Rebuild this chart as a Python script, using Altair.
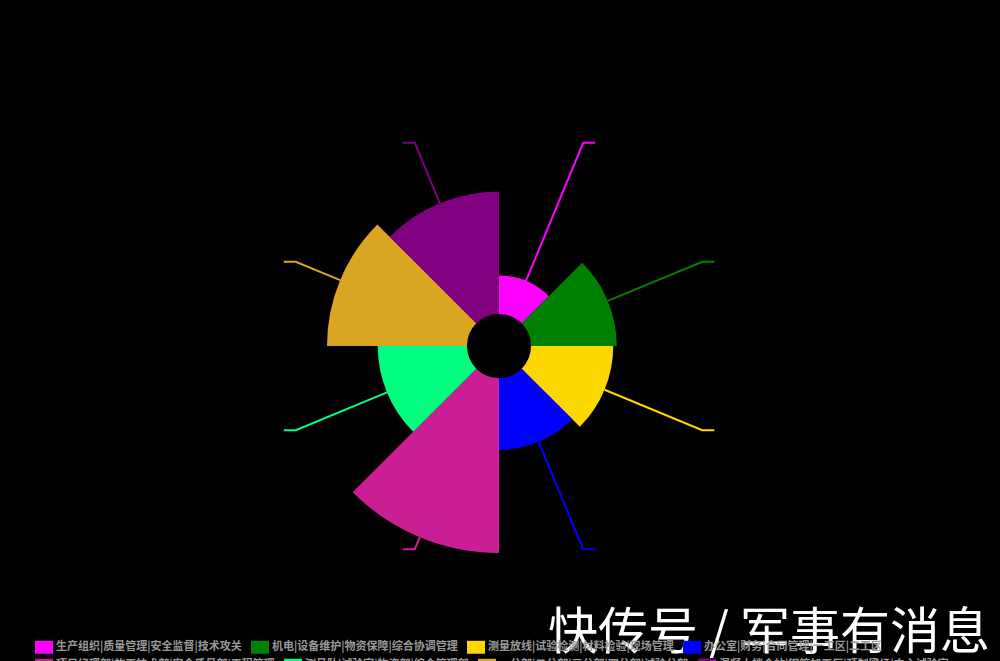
import math
import altair as alt
import pandas as pd

# ---- data ----
names = [
    "生产组织|质量管理|安全监督|技术攻关",
    "机电|设备维护|物资保障|综合协调管理",
    "测量放线|试验检测|材料检验|现场管理",
    "办公室|财务|合同管理|一工区|二工区",
    "项目经理部|施工技术部|安全质量部|工程管理",
    "测量队|试验室|物资部|综合管理部",
    "一分部|二分部|三分部|四分部|试验分部",
    "混凝土拌合站|钢筋加工厂|预制梁场|中心试验室",
]
colors = ["#FF00FF", "#008000", "#FFD700", "#0000FF",
          "#CA1F94", "#00FF7F", "#DAA520", "#800080"]
values = [22, 49, 47, 41, 100, 51, 80, 70]
watermark = ["快传号 / 军事有消息"]

# page background black, no scrollbars (cosmetic only; falls back silently)
try:
    import altair.utils.html as _h

    class _BlackPage:
        def __init__(self, base):
            self.base = base

        def render(self, *a, **kw):
            html = self.base.render(*a, **kw)
            return html.replace(
                "<head>",
                "<head><style>html,body{background:#000;overflow:hidden;}</style>", 1)

    if not isinstance(_h.TEMPLATES.get("standard"), _BlackPage):
        _h.TEMPLATES["standard"] = _BlackPage(_h.TEMPLATES["standard"])
except Exception:
    pass

# ---- layout constants ----
W, H = 984, 653
CX, CY = 491, 338          # pie centre (svg px)
R0, R1 = 32, 207           # inner radius / max outer radius
ELBOW, TAIL = 220, 12      # label-line geometry

n = len(names)
slices = pd.DataFrame({
    "name": names, "value": values, "idx": list(range(n)),
})

vmax = max(values)
rows = []
for i, (nm, v) in enumerate(zip(names, values)):
    a = (i + 0.5) * 2 * math.pi / n
    s, c = math.sin(a), math.cos(a)
    r = R0 + v / vmax * (R1 - R0)
    x1, y1 = CX + ELBOW * s, CY - ELBOW * c
    rows += [
        dict(name=nm, k=0, px=CX + r * s, py=CY - r * c),
        dict(name=nm, k=1, px=x1, py=y1),
        dict(name=nm, k=2, px=x1 + TAIL * (1 if s > 0 else -1), py=y1),
    ]
lines = pd.DataFrame(rows)

theta_scale = alt.Scale(domain=[0, n], range=[0, 2 * math.pi])
radius_scale = alt.Scale(type="linear", domain=[0, vmax], range=[R0, R1])


def legend_row(y):
    return alt.Legend(
        title=None, orient="none", legendX=27, legendY=y,
        direction="horizontal",
        symbolType="M-1,-0.72L1,-0.72L1,0.72L-1,0.72Z", symbolSize=324,
        symbolStrokeWidth=0, symbolOffset=0, labelOffset=3,
        labelColor="#9a9a9a", labelFont="Noto Sans CJK SC", labelFontSize=11,
        labelFontWeight="bold", labelLimit=0, columnPadding=9,
    )


def arc_layer(lo, hi, y):
    sub = names[lo:hi]
    return alt.Chart(slices).transform_filter(
        f"datum.idx >= {lo} && datum.idx < {hi}"
    ).transform_calculate(t0="datum.idx", t1="datum.idx + 1").mark_arc(innerRadius=R0).encode(
        theta=alt.Theta("t0:Q", scale=theta_scale),
        theta2="t1:Q",
        radius=alt.Radius("value:Q", scale=radius_scale),
        color=alt.Color("name:N", scale=alt.Scale(domain=sub, range=colors[lo:hi]),
                        sort=sub, legend=legend_row(y)),
        x=alt.value(CX), y=alt.value(CY),
    )


arcs1 = arc_layer(0, 4, 630)
arcs2 = arc_layer(4, 8, 648)

leader = alt.Chart(lines).mark_line(strokeWidth=2).encode(
    x=alt.X("px:Q", scale=None, axis=None),
    y=alt.Y("py:Q", scale=None, axis=None),
    detail="name:N",
    color=alt.Color("name:N", scale=alt.Scale(domain=names, range=colors), legend=None),
    order=alt.Order("k:Q"),
)

wm = alt.Chart(pd.DataFrame({"t": watermark})).mark_text(
    font="Noto Sans CJK SC", fontSize=50, color="white",
    align="right", baseline="alphabetic",
).encode(text="t:N", x=alt.value(982), y=alt.value(641))

chart = alt.layer(arcs1, arcs2, leader, wm).resolve_scale(
    color="independent"
).resolve_legend(color="independent").properties(
    width=W, height=H, background="black", padding=0,
    autosize=alt.AutoSizeParams(type="none"),
).configure_view(stroke=None)

chart.save("out.html", embed_options={"renderer": "svg", "actions": False})
